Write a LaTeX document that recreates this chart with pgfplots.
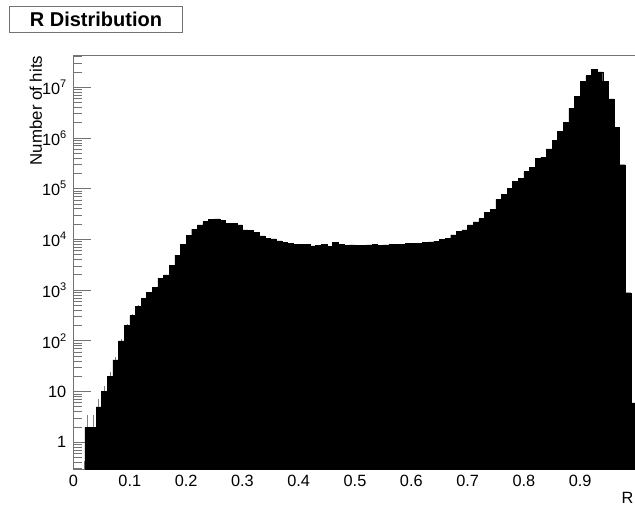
\documentclass[border=0pt]{standalone}
\usepackage{fontspec}
\setmainfont{Liberation Sans}
\usepackage{pgfplots}
\pgfplotsset{compat=1.18}
% ROOT-like power of ten label in the text font
\newcommand{\ex}[1]{10\raisebox{0.42em}{\fontsize{11}{11}\selectfont #1}}

\begin{document}
\begin{tikzpicture}
\begin{axis}[
    name=ax,
    scale only axis,
    width=563pt, height=413.3pt,
    xmin=0, xmax=1,
    ymode=log, ymin=0.298, ymax=4.19e7,
    log origin y=infty,
    axis line style={black!55, line width=1pt},
    every tick/.style={black!55, line width=0.8pt},
    tick align=inside,
    tick pos=left,
    major tick length=17pt,
    minor tick length=8pt,
    xtick={0,0.1,0.2,0.3,0.4,0.5,0.6,0.7,0.8,0.9,1},
    xticklabels={0,0.1,0.2,0.3,0.4,0.5,0.6,0.7,0.8,0.9,},
    minor x tick num=4,
    ytick={1,10,100,1000,10000,100000,1000000,10000000},
    yticklabels={1,10,\ex{2},\ex{3},\ex{4},\ex{5},\ex{6},\ex{7}},
    minor ytick={0.3,0.4,0.5,0.6,0.7,0.8,0.9,
                 2,3,4,5,6,7,8,9,
                 20,30,40,50,60,70,80,90,
                 200,300,400,500,600,700,800,900,
                 2e3,3e3,4e3,5e3,6e3,7e3,8e3,9e3,
                 2e4,3e4,4e4,5e4,6e4,7e4,8e4,9e4,
                 2e5,3e5,4e5,5e5,6e5,7e5,8e5,9e5,
                 2e6,3e6,4e6,5e6,6e6,7e6,8e6,9e6,
                 2e7,3e7,4e7},
    ticklabel style={font=\fontsize{16.3}{19}\selectfont, inner sep=0pt},
    xticklabel style={yshift=-6pt},
    yticklabel style={xshift=-7pt},
    xlabel={R},
    xlabel style={at={([xshift=-3pt,yshift=-34pt]rel axis cs:1,0)}, anchor=base east, inner sep=0pt, font=\fontsize{16.3}{19}\selectfont},
    ylabel={Number of hits},
    ylabel style={at={([xshift=-31.5pt]rel axis cs:0,1)}, anchor=base east, inner sep=0pt, font=\fontsize{16.8}{19}\selectfont},
]
% statistical errors on the sparse bins (bin centres)
\addplot[draw=none, mark=none, forget plot,
    error bars/.cd, y dir=plus, y explicit, error mark=none,
    error bar style={draw=black!50, line width=0.8pt}]
    table[x=x, y=y, y error=e] {
x y e
0.025 2 1.41
0.035 2 1.41
0.045 5 2.24
0.055 10 3.16
0.065 20 4.47
0.075 42 6.48
0.085 100 10
0.095 200 14.1
0.105 320 17.9
0.115 480 21.9
};
% histogram, x = lower bin edge, last row closes the final bin
\addplot[ybar interval, fill=black, draw=black, line width=0.4pt] table {
x y
0.02 2
0.03 2
0.04 5
0.05 10
0.06 20
0.07 42
0.08 100
0.09 200
0.10 320
0.11 480
0.12 680
0.13 910
0.14 1150
0.15 1730
0.16 2000
0.17 3100
0.18 4900
0.19 8100
0.20 12100
0.21 16000
0.22 19400
0.23 22500
0.24 24500
0.25 25300
0.26 24000
0.27 20500
0.28 21000
0.29 19400
0.30 15500
0.31 15000
0.32 14000
0.33 11800
0.34 10400
0.35 10200
0.36 9400
0.37 8900
0.38 8300
0.39 8100
0.40 8000
0.41 8100
0.42 7500
0.43 7700
0.44 8000
0.45 7200
0.46 8800
0.47 8000
0.48 7700
0.49 7800
0.50 7600
0.51 7700
0.52 7800
0.53 7900
0.54 7700
0.55 7800
0.56 7900
0.57 8000
0.58 8100
0.59 8300
0.60 8300
0.61 8400
0.62 8800
0.63 9000
0.64 9300
0.65 10000
0.66 10500
0.67 12300
0.68 14300
0.69 15500
0.70 19400
0.71 22200
0.72 25800
0.73 34000
0.74 39000
0.75 61500
0.76 78000
0.77 103000
0.78 139000
0.79 162000
0.80 218000
0.81 264000
0.82 400000
0.83 418000
0.84 610000
0.85 890000
0.86 1350000
0.87 2050000
0.88 3900000
0.89 6600000
0.90 13000000
0.91 17000000
0.92 22200000
0.93 20000000
0.94 13200000
0.95 5900000
0.96 1620000
0.97 297000
0.98 890
0.99 6
1.00 6
};
\end{axis}
\node[draw=black!55, line width=1pt, minimum width=173.4pt, minimum height=26.3pt,
      inner sep=0pt, font=\bfseries\fontsize{20}{24}\selectfont]
  at ([xshift=22.5pt,yshift=36.5pt]ax.north west) {R Distribution};
\pgfresetboundingbox
\path ([xshift=-73.5pt,yshift=-36pt]ax.south west) rectangle ([xshift=561.5pt,yshift=55.7pt]ax.north west);
\end{tikzpicture}
\end{document}
